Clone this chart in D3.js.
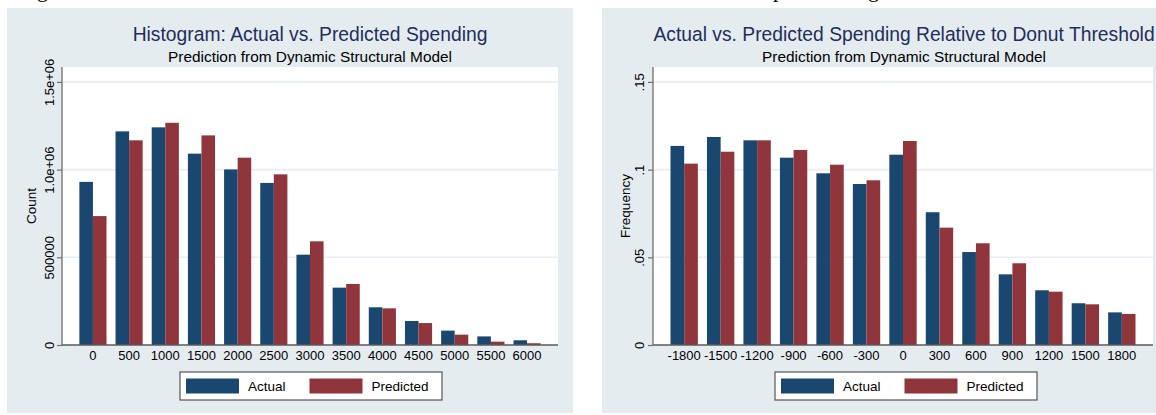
<!DOCTYPE html>
<html>
<head>
<meta charset="utf-8">
<script src="https://cdn.jsdelivr.net/npm/d3@7"></script>
<style>
  body { margin: 0; background: #fff; }
  svg { display: block; font-family: "Liberation Sans", Arial, sans-serif; }
</style>
</head>
<body>
<div id="chart"></div>
<script>
// Two Stata-style bar charts: actual vs. predicted spending

const spendBins = ['0', '500', '1000', '1500', '2000', '2500', '3000', '3500', '4000', '4500', '5000', '5500', '6000'];
const spendActual = [930000, 1218000, 1241000, 1091000, 1001000, 924000, 515000, 327000, 215000, 137000, 82000, 49000, 27000];
const spendPredicted = [735000, 1167000, 1267000, 1195000, 1068000, 973000, 591000, 348000, 209000, 125000, 59000, 19000, 10000];
const countTicks = [0, 500000, 1000000, 1500000];
const countTickLabels = ['0', '500000', '1.0e+06', '1.5e+06'];

const donutBins = ['-1800', '-1500', '-1200', '-900', '-600', '-300', '0', '300', '600', '900', '1200', '1500', '1800'];
const donutActual = [0.1135, 0.1186, 0.1167, 0.1068, 0.0979, 0.0918, 0.1085, 0.0757, 0.0530, 0.0403, 0.0312, 0.0238, 0.0186];
const donutPredicted = [0.1034, 0.1102, 0.1167, 0.1112, 0.1028, 0.0939, 0.1163, 0.0669, 0.0580, 0.0466, 0.0304, 0.0232, 0.0177];
const freqTicks = [0, 0.05, 0.1, 0.15];
const freqTickLabels = ['0', '.05', '.1', '.15'];

const seriesNames = ['Actual', 'Predicted'];
const seriesColors = ['#1a476f', '#90353b'];

const bgColor = '#e5ecf0';
const titleColor = '#1f2e5c';

var svg = d3.select('#chart').append('svg')
    .attr('width', 1156)
    .attr('height', 415);

// bits of the figure caption above, cut off by the crop
svg.append('g')
    .style('font-family', '"Liberation Serif", serif')
    .style('font-size', '22px')
    .selectAll('text')
    .data([['g', 37], ['p', 773], ['g', 868]])
    .enter()
    .append('text')
    .attr('x', d => d[1])
    .attr('y', -3)
    .text(d => d[0]);

function drawPanel(p) {
    var g = svg.append('g');

    g.append('rect')
        .attr('x', p.bg[0]).attr('y', 8)
        .attr('width', p.bg[1] - p.bg[0]).attr('height', 405)
        .attr('fill', bgColor);

    g.append('rect')
        .attr('x', p.left).attr('y', 67)
        .attr('width', p.right - p.left).attr('height', 345 - 67)
        .attr('fill', '#fff');

    var x = d3.scaleBand().domain(p.bins).range([p.left, p.right])
        .paddingInner(0.25).paddingOuter(0.48);
    var xSub = d3.scaleBand().domain(seriesNames).range([0, x.bandwidth()]);
    var y = d3.scaleLinear().domain([0, p.yMax]).range([345, 67]);

    // grid lines
    g.selectAll('.grid')
        .data(p.ticks.filter(t => t > 0))
        .enter()
        .append('line')
        .attr('x1', p.left).attr('x2', p.right)
        .attr('y1', d => y(d)).attr('y2', d => y(d))
        .attr('stroke', '#e8eef1')
        .attr('stroke-width', 1.6);

    // bars
    var rows = p.bins.map((b, i) => ({bin: b, vals: [p.actual[i], p.predicted[i]]}));
    g.selectAll('.grp')
        .data(rows)
        .enter()
        .append('g')
        .attr('transform', d => 'translate(' + x(d.bin) + ',0)')
        .selectAll('rect')
        .data(d => d.vals.map((v, k) => ({name: seriesNames[k], v: v, c: seriesColors[k]})))
        .enter()
        .append('rect')
        .attr('x', d => xSub(d.name))
        .attr('y', d => y(d.v))
        .attr('width', xSub.bandwidth())
        .attr('height', d => 345 - y(d.v))
        .attr('fill', d => d.c);

    // y axis
    var yAxis = g.append('g')
        .attr('transform', 'translate(' + p.left + ',0)')
        .call(d3.axisLeft(y).tickValues(p.ticks).tickSize(5).tickFormat((d, i) => p.tickLabels[i]));
    yAxis.select('.domain').attr('stroke', '#6e6e6e').attr('stroke-width', 1.3)
        .attr('d', 'M0,67V345');
    yAxis.selectAll('.tick line').attr('stroke', '#6e6e6e').attr('stroke-width', 1.2);
    yAxis.selectAll('.tick text')
        .attr('x', null).attr('dy', null)
        .attr('transform', 'translate(' + (p.tickX - p.left) + ',0) rotate(-90)')
        .attr('text-anchor', 'middle')
        .attr('fill', '#000')
        .style('font-size', '13px');

    // x axis
    var xAxis = g.append('g')
        .attr('transform', 'translate(0,345)')
        .call(d3.axisBottom(x).tickSize(0).tickPadding(0));
    xAxis.select('.domain').attr('stroke', '#5a5a5a').attr('stroke-width', 1.6)
        .attr('d', 'M' + p.left + ',0H' + p.right);
    xAxis.selectAll('.tick text')
        .attr('y', 15).attr('dy', null)
        .attr('fill', '#000')
        .style('font-size', '13px');

    g.append('text')
        .attr('transform', 'translate(' + p.yTitleX + ',206) rotate(-90)')
        .attr('text-anchor', 'middle')
        .style('font-size', '13.5px')
        .text(p.yTitle);

    g.append('text')
        .attr('x', p.center).attr('y', 41)
        .attr('text-anchor', 'middle')
        .attr('fill', titleColor)
        .style('font-size', '19.3px')
        .text(p.title);

    g.append('text')
        .attr('x', p.center).attr('y', 61.5)
        .attr('text-anchor', 'middle')
        .style('font-size', '15.4px')
        .text('Prediction from Dynamic Structural Model');

    // legend
    var lx = p.legendCenter - 131;
    var leg = g.append('g').attr('transform', 'translate(' + lx + ',372)');
    leg.append('rect')
        .attr('width', 262).attr('height', 28)
        .attr('fill', '#fff')
        .attr('stroke', '#555').attr('stroke-width', 1.2);
    var item = leg.selectAll('.item')
        .data(seriesNames)
        .enter()
        .append('g')
        .attr('transform', (d, i) => 'translate(' + [6, 129.5][i] + ',0)');
    item.append('rect')
        .attr('y', 6.5).attr('width', 53).attr('height', 15)
        .attr('fill', (d, i) => seriesColors[i]);
    item.append('text')
        .attr('x', 62).attr('y', 19)
        .style('font-size', '13.5px')
        .text(d => d);
}

drawPanel({
    bg: [7, 573], left: 62, right: 558, center: 310,
    bins: spendBins, actual: spendActual, predicted: spendPredicted,
    yMax: 1585000, ticks: countTicks, tickLabels: countTickLabels,
    tickX: 53.5, yTitleX: 35.5, yTitle: 'Count',
    title: 'Histogram: Actual vs. Predicted Spending',
    legendCenter: 311
});

drawPanel({
    bg: [602, 1160], left: 653, right: 1153, center: 904,
    bins: donutBins, actual: donutActual, predicted: donutPredicted,
    yMax: 0.1585, ticks: freqTicks, tickLabels: freqTickLabels,
    tickX: 643.5, yTitleX: 629.5, yTitle: 'Frequency',
    title: 'Actual vs. Predicted Spending Relative to Donut Threshold',
    legendCenter: 906
});
</script>
</body>
</html>
